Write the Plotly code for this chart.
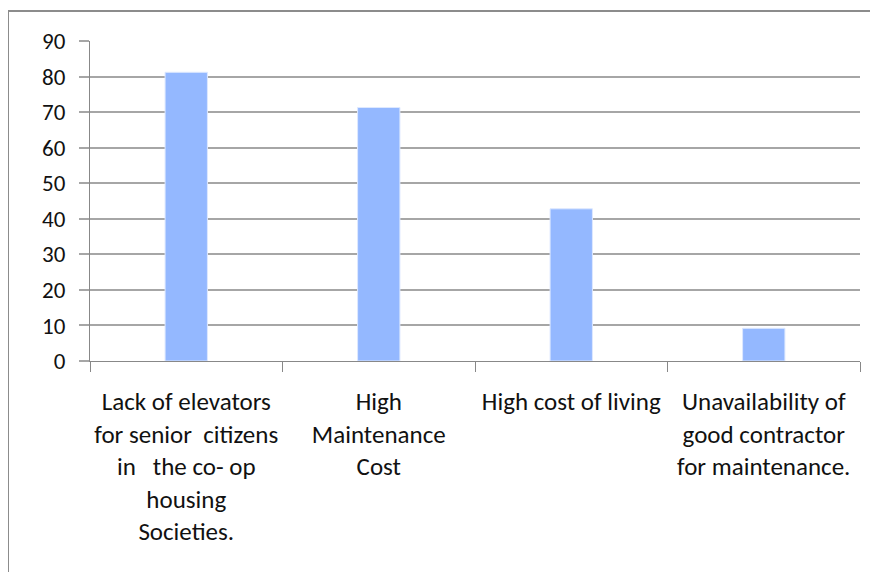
import plotly.graph_objects as go

categories = [
    "Lack of elevators<br>for senior  citizens<br>in   the co- op<br>housing<br>Societies.",
    "High<br>Maintenance<br>Cost",
    "High cost of living",
    "Unavailability of<br>good contractor<br>for maintenance.",
]
values = [81.2, 71.3, 42.8, 9.2]
y_ticks = [0, 10, 20, 30, 40, 50, 60, 70, 80, 90]

OFF = 8  # page body margin
W, H = 870, 564
L, R, T, B = 90 - OFF, 18, 41 - OFF, 211
pw, ph = W - L - R, H - T - B

def px_x(p):
    return (p - OFF - L) / pw

def px_y(p):
    return (H - B - (p - OFF)) / ph

fig = go.Figure(go.Bar(
    x=categories, y=values,
    marker=dict(color="#94b8ff", line=dict(color="#dde8ff", width=1)),
    width=0.22,
))

fig.update_layout(
    width=W, height=H,
    margin=dict(l=L, r=R, t=T, b=B),
    paper_bgcolor="white", plot_bgcolor="white",
    showlegend=False,
    font=dict(family="Carlito, DejaVu Sans Condensed, Roboto, sans-serif", color="#111111"),
    xaxis=dict(
        type="category",
        tickson="boundaries",
        tickangle=0,
        automargin=False,
        ticks="outside", ticklen=10, tickcolor="#888888", tickwidth=1,
        showline=True, linecolor="#888888", linewidth=1,
        tickfont=dict(size=25),
        ticklabelstandoff=18,
        showgrid=False,
    ),
    yaxis=dict(
        range=[0, 90], tickvals=y_ticks,
        automargin=False,
        ticks="outside", ticklen=10, tickcolor="#a6a6a6", tickwidth=1.5,
        showline=True, linecolor="#888888", linewidth=1,
        showgrid=True, gridcolor="#a6a6a6", gridwidth=1.5,
        tickfont=dict(size=23),
        ticklabelstandoff=9,
        zeroline=False,
    ),
    shapes=[dict(
        type="rect", xref="paper", yref="paper",
        x0=px_x(8), x1=px_x(890), y0=px_y(590), y1=px_y(11),
        line=dict(color="#8c8c8c", width=2), fillcolor="rgba(0,0,0,0)",
        layer="below",
    )],
)

fig.write_html("out.html")
